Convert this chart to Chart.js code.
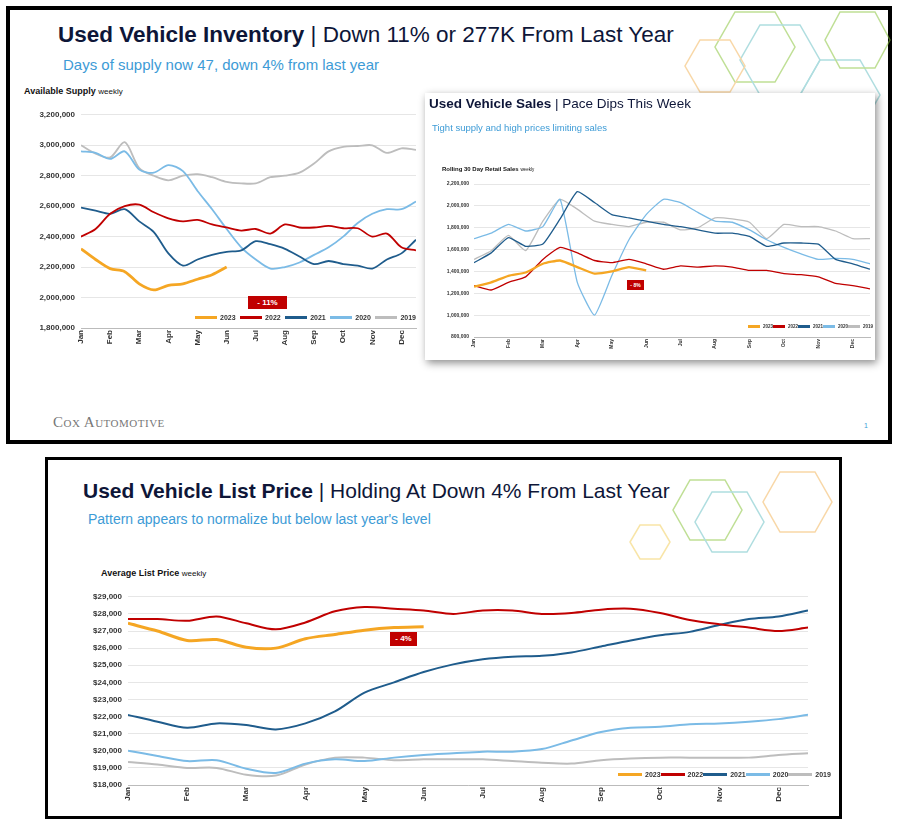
<!DOCTYPE html>
<html><head><meta charset="utf-8">
<script src="https://cdn.jsdelivr.net/npm/chart.js@4"></script>
<style>
body{margin:0;width:905px;height:826px;background:#fff;font-family:"Liberation Sans",Arial,sans-serif;position:relative;overflow:hidden}
.abs{position:absolute}
.t{color:#0e1638;white-space:nowrap}
.sub{color:#3d9bd6;white-space:nowrap}
.leg{display:flex;justify-content:space-between;align-items:center;font-weight:bold;color:#333;white-space:nowrap}
.leg span{display:inline-flex;align-items:center}
.leg i{display:inline-block;height:3px;margin-right:3px}
.box{background:#c00000;color:#fff;font-weight:bold;text-align:center}
</style></head><body>
<div class="abs" style="left:6px;top:6px;width:878px;height:430px;border:4px solid #000"></div>
<div class="abs" style="left:45px;top:457px;width:791px;height:356px;border:3px solid #000"></div>
<svg class="abs" style="left:0;top:0" width="905" height="826">
<g fill="none" stroke-width="1.5" opacity="0.55">
<polygon points="735,12 775,12 795,47 775,82 735,82 715,47" stroke="#8cc63f"/>
<polygon points="760,25 800,25 820,60 800,95 760,95 740,60" stroke="#6fc3c7"/>
<polygon points="700,40 730,40 745,66 730,92 700,92 685,66" stroke="#f4b860"/>
<polygon points="820,60 860,60 880,95 860,130 820,130 800,95" stroke="#6fc3c7"/>
<polygon points="840,12 875,12 890,40 875,68 840,68 825,40" stroke="#8cc63f"/>
<polygon points="690,480 725,480 742,510 725,540 690,540 673,510" stroke="#8cc63f"/>
<polygon points="712,492 747,492 764,522 747,552 712,552 695,522" stroke="#6fc3c7"/>
<polygon points="640,525 660,525 670,542 660,559 640,559 630,542" stroke="#f4d060"/>
<polygon points="780,472 815,472 832,502 815,532 780,532 763,502" stroke="#f4b860"/>
</g></svg>
<div class="abs t" style="left:58px;top:22px;font-size:22.5px"><b>Used Vehicle Inventory</b> | Down 11% or 277K From Last Year</div>
<div class="abs sub" style="left:63px;top:56px;font-size:15px">Days of supply now 47, down 4% from last year</div>
<div class="abs t" style="left:24px;top:86px;font-size:9px;color:#111"><b>Available Supply</b> <span style="font-size:8px">weekly</span></div>
<canvas id="c1" class="abs" style="left:20px;top:104px" width="400" height="256"></canvas>
<div class="abs box" style="left:248px;top:296px;width:39px;height:13px;font-size:8px;line-height:13px">- 11%</div>
<div class="abs leg" id="l1" style="left:195px;top:314px;width:221px;font-size:7px"></div>
<div class="abs" style="left:53px;top:414px;font-family:'Liberation Serif',serif;color:#777;font-size:15px;font-variant:small-caps;letter-spacing:0.5px">Cox Automotive</div>
<div class="abs" style="left:864px;top:422px;color:#3d9bd6;font-size:7px">1</div>

<div class="abs" style="left:425px;top:93px;width:450px;height:267px;background:#fff;box-shadow:2px 3px 8px rgba(0,0,0,0.45)"></div>
<div class="abs t" style="left:429px;top:96px;font-size:13.5px"><b>Used Vehicle Sales</b> | Pace Dips This Week</div>
<div class="abs sub" style="left:432px;top:122px;font-size:9.5px">Tight supply and high prices limiting sales</div>
<div class="abs t" style="left:442px;top:166px;font-size:6px;color:#111"><b>Rolling 30 Day Retail Sales</b> <span style="font-size:4.5px">weekly</span></div>
<canvas id="c2" class="abs" style="left:435px;top:176px" width="440" height="180"></canvas>
<div class="abs box" style="left:627px;top:280px;width:17px;height:10px;font-size:5px;line-height:10px">- 8%</div>
<div class="abs leg" id="l2" style="left:748px;top:324px;width:120px;font-size:4.5px"></div>

<div class="abs t" style="left:83px;top:479px;font-size:21px"><b>Used Vehicle List Price</b> | Holding At Down 4% From Last Year</div>
<div class="abs sub" style="left:88px;top:511px;font-size:14px">Pattern appears to normalize but below last year's level</div>
<div class="abs t" style="left:101px;top:568px;font-size:9px;color:#111"><b>Average List Price</b> <span style="font-size:8px">weekly</span></div>
<canvas id="c3" class="abs" style="left:60px;top:586px" width="752" height="226"></canvas>
<div class="abs box" style="left:390px;top:632px;width:27px;height:14px;font-size:8px;line-height:14px">- 4%</div>
<div class="abs leg" id="l3" style="left:618px;top:771px;width:188px;font-size:7px"></div>
<script>
const months=["Jan","Feb","Mar","Apr","May","Jun","Jul","Aug","Sep","Oct","Nov","Dec"];
const seriesNames=["2023","2022","2021","2020","2019"];
const colors=["#f5a623","#c00000","#1f5c8c","#7bbbe6","#bdbdbd"];
// half-monthly values (Jan 1, Jan 15, Feb 1 ...)
const supply2023=[2320000,2250000,2190000,2170000,2090000,2050000,2080000,2090000,2120000,2150000,2200000];
const supply2022=[2400000,2450000,2550000,2600000,2610000,2560000,2520000,2500000,2510000,2480000,2460000,2440000,2450000,2420000,2480000,2460000,2460000,2470000,2455000,2455000,2400000,2420000,2330000,2310000];
const supply2021=[2590000,2570000,2550000,2580000,2500000,2430000,2290000,2210000,2250000,2280000,2300000,2310000,2370000,2350000,2320000,2270000,2220000,2240000,2220000,2210000,2190000,2250000,2290000,2380000];
const supply2020=[2960000,2950000,2910000,2960000,2840000,2820000,2870000,2830000,2700000,2580000,2450000,2330000,2250000,2190000,2200000,2230000,2280000,2330000,2400000,2490000,2550000,2580000,2580000,2630000];
const supply2019=[3000000,2945000,2920000,3020000,2850000,2800000,2770000,2800000,2810000,2790000,2760000,2750000,2750000,2790000,2800000,2820000,2880000,2960000,2990000,2995000,3000000,2950000,2980000,2970000];
const sales2023=[1260000,1300000,1360000,1390000,1470000,1500000,1440000,1380000,1400000,1440000,1410000];
const sales2022=[1270000,1230000,1300000,1350000,1510000,1620000,1570000,1500000,1480000,1510000,1470000,1420000,1450000,1440000,1450000,1440000,1410000,1410000,1380000,1370000,1350000,1290000,1270000,1240000];
const sales2021=[1480000,1570000,1710000,1630000,1650000,1880000,2130000,2030000,1920000,1890000,1860000,1830000,1810000,1780000,1750000,1750000,1720000,1630000,1660000,1660000,1650000,1510000,1470000,1420000];
const sales2020=[1700000,1750000,1830000,1770000,1810000,2060000,1300000,1000000,1360000,1690000,1920000,2060000,2030000,1940000,1860000,1850000,1780000,1690000,1620000,1560000,1510000,1520000,1510000,1470000];
const sales2019=[1510000,1590000,1730000,1590000,1860000,2060000,1970000,1860000,1830000,1810000,1850000,1850000,1780000,1800000,1890000,1880000,1850000,1700000,1830000,1810000,1810000,1770000,1700000,1700000];
const price2023=[27450,27000,26450,26500,26050,26000,26550,26800,27050,27200,27250];
const price2022=[27700,27700,27600,27850,27450,27100,27500,28150,28400,28300,28200,28000,28200,28200,28000,28050,28250,28300,28050,27650,27400,27200,27000,27200];
const price2021=[22100,21700,21350,21600,21500,21250,21600,22300,23400,24000,24600,25050,25350,25500,25550,25750,26100,26450,26750,26950,27350,27700,27850,28200];
const price2020=[20000,19700,19400,19450,18950,18700,19250,19500,19400,19600,19750,19850,19950,19950,20100,20600,21100,21350,21400,21550,21600,21700,21850,22100];
const price2019=[19350,19200,19000,19000,18600,18550,19200,19600,19600,19450,19500,19500,19500,19400,19300,19250,19450,19550,19600,19600,19600,19600,19750,19850];
const supplyTicks=[1800000,3200000,200000];
const salesTicks=[800000,2200000,200000];
const priceTicks=[18000,29000,1000];

function pts(a){return a.map((v,i)=>({x:i*0.5,y:v}));}
function legend(id,w){document.getElementById(id).innerHTML=seriesNames.map((n,i)=>`<span><i style="width:${w}px;background:${colors[i]}"></i>${n}</span>`).join('');}
legend('l1',22);legend('l2',12);legend('l3',24);
function make(id,series,ticks,opt){
 new Chart(document.getElementById(id),{type:'line',
  data:{datasets:series.map((s,i)=>({label:seriesNames[i],data:pts(s),borderColor:colors[i],backgroundColor:colors[i],borderWidth:i==0?opt.bw+1:opt.bw,pointRadius:0,tension:opt.ten,fill:false}))},
  options:{responsive:false,animation:false,events:[],
   layout:{padding:{top:opt.pt,right:opt.pr,left:0,bottom:6}},
   plugins:{legend:{display:false},tooltip:{enabled:false}},
   scales:{
    x:{type:'linear',min:0,max:11.5,grid:{display:false,drawTicks:false,tickLength:0},border:{color:'#bbb'},
       afterBuildTicks:s=>{s.ticks=months.map((m,i)=>({value:i}));},
       afterFit:s=>{s.height=opt.xh;},
       ticks:{minRotation:90,maxRotation:90,autoSkip:false,padding:2,color:'#333',font:{size:opt.fs,weight:'bold',family:'Liberation Sans'},callback:v=>months[v]}},
    y:{min:ticks[0],max:ticks[1],grid:{color:'#e6e6e6',drawTicks:false,tickLength:0},border:{display:false},
       afterFit:s=>{s.width=opt.yw;},
       ticks:{stepSize:ticks[2],color:'#333',padding:opt.tp,font:{size:opt.fs,weight:'bold',family:'Liberation Sans'},callback:v=>opt.pre+v.toLocaleString('en-US')}}}}});
}
make('c1',[supply2023,supply2022,supply2021,supply2020,supply2019],supplyTicks,{bw:1.8,pt:8,pr:4,xh:26,yw:61,fs:8,tp:6,pre:'',ten:0.3});
make('c2',[sales2023,sales2022,sales2021,sales2020,sales2019],salesTicks,{bw:1.3,pt:8,pr:5,xh:13,yw:39,fs:5,tp:5,pre:'',ten:0.15});
make('c3',[price2023,price2022,price2021,price2020,price2019],priceTicks,{bw:2,pt:8,pr:4,xh:21,yw:68,fs:8,tp:6,pre:'$',ten:0.3});
</script></body></html>
